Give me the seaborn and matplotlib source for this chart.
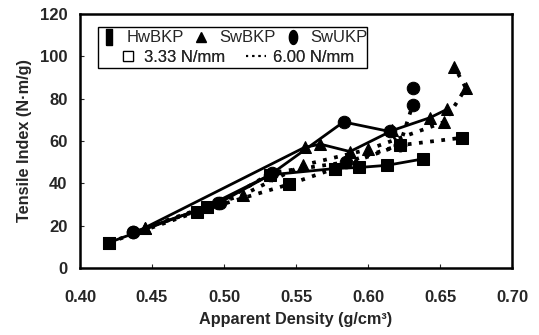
import matplotlib
matplotlib.use("Agg")
import matplotlib.pyplot as plt
from matplotlib.lines import Line2D
from matplotlib.patches import Rectangle
import seaborn as sns
import pandas as pd
import numpy as np

# ---- data ----
hw_333_x = [0.420, 0.488, 0.532, 0.577, 0.594, 0.613, 0.638]
hw_333_y = [12, 29, 44, 47, 47.5, 48.5, 51.5]
hw_600_x = [0.420, 0.481, 0.545, 0.577, 0.622, 0.665]
hw_600_y = [12, 26.5, 39.5, 47, 58, 61.5]

sw_333_x = [0.445, 0.556, 0.567, 0.5875, 0.617, 0.643, 0.655]
sw_333_y = [19, 57, 58.5, 55, 65, 71, 75]
sw_600_x = [0.445, 0.488, 0.513, 0.555, 0.600, 0.653, 0.668, 0.660]
sw_600_y = [19, 29, 34.5, 48.6, 56, 69, 85, 95]

su_333_x = [0.437, 0.496, 0.532, 0.583, 0.615, 0.622]
su_333_y = [17, 30.5, 44, 69, 64.5, 58]
su_600_x = [0.437, 0.497, 0.533, 0.585, 0.622, 0.631, 0.631]
su_600_y = [17, 30.5, 45, 50, 58, 77, 85]

pulps = ["HwBKP", "SwBKP", "SwUKP"]
loads = ["3.33 N/mm", "6.00 N/mm"]
x_ticks = [0.40, 0.45, 0.50, 0.55, 0.60, 0.65, 0.70]
y_ticks = [0, 20, 40, 60, 80, 100, 120]

series = [
    ("HwBKP", "3.33 N/mm", hw_333_x, hw_333_y),
    ("HwBKP", "6.00 N/mm", hw_600_x, hw_600_y),
    ("SwBKP", "3.33 N/mm", sw_333_x, sw_333_y),
    ("SwBKP", "6.00 N/mm", sw_600_x, sw_600_y),
    ("SwUKP", "3.33 N/mm", su_333_x, su_333_y),
    ("SwUKP", "6.00 N/mm", su_600_x, su_600_y),
]

sns.set_style("ticks")
plt.rcParams['font.family'] = ['Liberation Sans', 'DejaVu Sans']

W, H = 539, 335
fig = plt.figure(figsize=(W / 100, H / 100), dpi=100)
AX_L, AX_R, AX_T, AX_B = 80, 512, 14, 268
ax = fig.add_axes([AX_L / W, (H - AX_B) / H, (AX_R - AX_L) / W, (AX_B - AX_T) / H])

def ax_frac(px, py):
    return ((px - AX_L) / (AX_R - AX_L), (AX_B - py) / (AX_B - AX_T))

markers = {"HwBKP": "s", "SwBKP": "^", "SwUKP": "o"}
styles = {"3.33 N/mm": "-", "6.00 N/mm": (0, (1, 2.0))}
widths = {"3.33 N/mm": 2.0, "6.00 N/mm": 2.7}
msize = {"HwBKP": 8.5, "SwBKP": 9.0, "SwUKP": 9.0}

for pulp, load, xs, ys in series:
    df = pd.DataFrame({"x": xs, "y": ys})
    sns.lineplot(data=df, x="x", y="y", sort=False, estimator=None, ax=ax,
                 color="black", linestyle=styles[load], linewidth=widths[load],
                 marker=markers[pulp], markersize=msize[pulp], markeredgecolor="black",
                 markerfacecolor="black", legend=False)

ax.set_xlim(0.40, 0.70)
ax.set_ylim(0, 120)
ax.set_xticks(x_ticks)
ax.set_xticklabels([f"{t:.2f}" for t in x_ticks])
ax.set_yticks(y_ticks)
ax.tick_params(direction="in", length=3, width=0.8, labelsize=12)
ax.tick_params(axis="x", pad=16)
ax.tick_params(axis="y", pad=9)
for lab in ax.get_xticklabels() + ax.get_yticklabels():
    lab.set_fontweight("bold")
for s in ax.spines.values():
    s.set_linewidth(1.8)
    s.set_color("black")
    s.set_visible(True)

ax.set_xlabel("Apparent Density (g/cm³)", fontsize=11.7, fontweight="bold", labelpad=5)
ax.set_ylabel("Tensile Index (N·m/g)", fontsize=11.7, fontweight="bold", labelpad=6)

# ---- legend: two rows inside a single frame ----
rect_marker = [(-0.38, -1), (0.38, -1), (0.38, 1), (-0.38, 1), (-0.38, -1)]
t = np.linspace(0, 2 * np.pi, 40)
ell_marker = list(zip(0.6 * np.cos(t), np.sin(t)))

row1 = [
    Line2D([], [], color="black", marker=rect_marker, linestyle="None", markersize=11),
    Line2D([], [], color="black", marker="^", linestyle="None", markersize=7),
    Line2D([], [], color="black", marker=ell_marker, linestyle="None", markersize=10),
]
row2 = [
    Line2D([], [], color="black", marker="s", linestyle="None", markersize=7.5,
           markerfacecolor="white", markeredgewidth=0.9),
    Line2D([], [], color="black", linestyle=(0, (1, 2.0)), linewidth=1.5),
]

x1, y1 = ax_frac(104, 38)
leg1 = ax.legend(row1, pulps, ncol=3, loc="center left", bbox_to_anchor=(x1, y1),
                 frameon=False, fontsize=12, handlelength=0.6, handletextpad=0.75,
                 columnspacing=0.75, borderpad=0, borderaxespad=0)
ax.add_artist(leg1)
x2, y2 = ax_frac(117.5, 57)
leg2 = ax.legend(row2, loads, ncol=2, loc="center left", bbox_to_anchor=(x2, y2),
                 frameon=False, fontsize=12, handlelength=1.2, handletextpad=0.4,
                 columnspacing=1.26, borderpad=0, borderaxespad=0)
ax.add_artist(leg2)

fx0, fy0 = ax_frac(98, 68)
fx1, fy1 = ax_frac(367, 27)
ax.add_patch(Rectangle((fx0, fy0), fx1 - fx0, fy1 - fy0, transform=ax.transAxes,
                       fill=False, edgecolor="black", linewidth=1.0, zorder=5))

fig.savefig("out.png", dpi=100, facecolor="white")
